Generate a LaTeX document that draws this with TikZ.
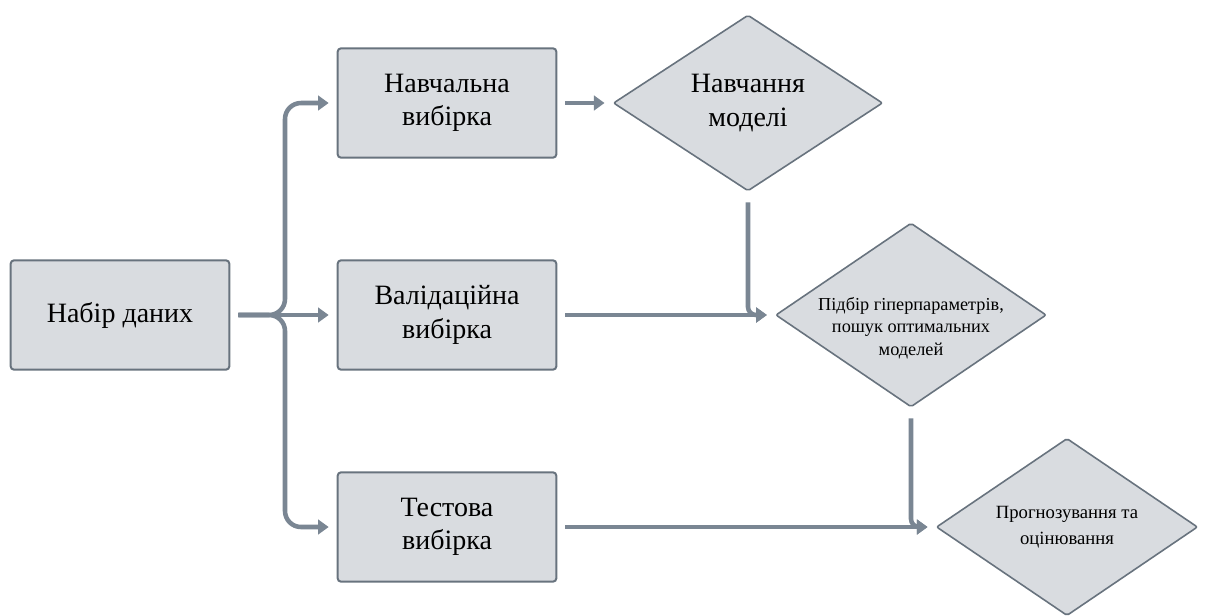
\documentclass[tikz,border=0pt]{standalone}
\usepackage{fontspec}
\setmainfont{Liberation Serif}
\usetikzlibrary{shapes.geometric,arrows.meta}
\definecolor{boxfill}{HTML}{D9DCE0}
\definecolor{boxline}{HTML}{68737E}
\definecolor{conncol}{HTML}{7A8693}
\begin{document}
\begin{tikzpicture}[x=0.75pt,y=-0.75pt,
  stepbox/.style={draw=boxline,fill=boxfill,line width=1.5pt,rounded corners=2.5pt,
    minimum width=164pt,minimum height=82pt,align=center,inner sep=0pt,
    font=\fontsize{21}{25}\selectfont},
  decide/.style={draw=boxline,fill=boxfill,line width=1.2pt,diamond,inner sep=0pt,
    rounded corners=1.5pt},
  conn/.style={draw=conncol,line width=3.4pt,
    -{Triangle[length=8pt,width=11pt]},shorten <=6pt,shorten >=6pt},
  bigtext/.style={align=center,font=\fontsize{21}{25}\selectfont},
]
\useasboundingbox (0,0) rectangle (1213,615);

% rectangles
\node[stepbox] (data)  at (120,315) {Набір даних};
\node[stepbox] (train) at (447,103) {Навчальна\\вибірка};
\node[stepbox] (val)   at (447,315) {Валідаційна\\вибірка};
\node[stepbox] (test)  at (447,527) {Тестова\\вибірка};

% decision shapes
\node[decide,minimum width=202pt,minimum height=132pt] (d1) at (748,103) {};
\node[bigtext] at (d1.center) {Навчання\\моделі};
\node[decide,minimum width=203pt,minimum height=138pt] (d2) at (911,315) {};
\node[align=center,font=\fontsize{13.7}{17}\selectfont] at (911,328)
  {Підбір гіперпараметрів,\\пошук оптимальних\\моделей};
\node[decide,minimum width=196pt,minimum height=133pt] (d3) at (1067,527) {};
\node[align=center,font=\fontsize{14}{19.5}\selectfont] at (d3.center)
  {Прогнозування та\\оцінювання};

% splitting bus
\coordinate (bus) at (285,315);
\draw[conn,rounded corners=12pt] (data.east) -- (bus) |- (train.west);
\draw[conn,rounded corners=12pt] (data.east) -- (bus) |- (test.west);
\draw[conn] (data.east) -- (val.west);

% flow to the decisions
\draw[conn] (train.east) -- (d1.west);
\draw[conn] (val.east) -- (d2.west);
\draw[conn,rounded corners=6pt,shorten <=8pt] (d1.south) |- (d2.west);
\draw[conn] (test.east) -- (d3.west);
\draw[conn,rounded corners=6pt,shorten <=8pt] (d2.south) |- (d3.west);
\end{tikzpicture}
\end{document}
